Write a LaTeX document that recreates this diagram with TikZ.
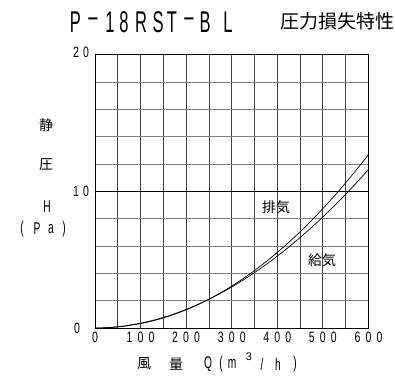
\documentclass[tikz,border=0pt]{standalone}
\usepackage{fontspec}
\setmainfont{Liberation Sans}
\newfontfamily\jpfont{Noto Sans CJK JP}
\begin{document}
\begin{tikzpicture}[x=1pt, y=-1pt]
\tikzstyle{letter}=[inner sep=0pt, font=\fontsize{30}{30}\selectfont]
\tikzstyle{small letter}=[inner sep=0pt, font=\fontsize{17}{17}\selectfont]
\tikzstyle{digit}=[inner sep=0pt, font=\fontsize{15}{15}\selectfont]
\tikzstyle{kanji}=[inner sep=0pt, font=\jpfont\fontsize{14}{14}\selectfont]
\tikzstyle{minor}=[black!50, line width=0.9pt]
\tikzstyle{major}=[black!75, line width=0.9pt]
\tikzstyle{curve}=[black, line width=0.7pt]
\useasboundingbox (0,0) rectangle (395,375);
% title
\foreach \c/\x [count=\i] in {P/75.5,{\textendash}/93,1/110,8/124,R/141,S/158,T/172,{\textendash}/189,B/205,L/228}
  \node[letter] (title\i) at (\x,22) {\scalebox{0.55}[1]{\c}};
\node[kanji, font=\jpfont\fontsize{19}{19}\selectfont] (subtitle) at (337,21) {圧力損失特性};
% grid and curves
\begin{scope}[shift={(95,328)}, x=0.4558pt, y=13.665pt]
  \foreach \q in {50,100,...,550}
    \draw[major] (\q,0) -- (\q,20);
  \foreach \h in {2,4,...,18}
    \draw[minor] (0,\h) -- (600,\h);
  \draw[black, line width=0.9pt] (0,10) -- (600,10);
  \draw[black, line width=0.9pt] (0,0) rectangle (600,20);
  \draw[curve] (0,0) -- plot[domain=1:600, samples=80] (\x, {12.7*pow(\x/600,2.05)});
  \draw[curve] (0,0) -- plot[domain=1:600, samples=80] (\x, {11.6*pow(\x/600,1.95)});
\end{scope}
\node[kanji] (exhaust) at (276,207) {排気};
\node[kanji] (supply) at (322,260) {給気};
% x ticks
\node[digit] (q0) at (95,337) {\scalebox{0.7}[1]{0}};
\foreach \q in {100,200,...,600}
  \foreach \d [count=\j] in {\the\numexpr\q/100\relax,0,0}
    \node[digit] (q\q-\j) at ({95+0.4558*\q+11*(\j-2)}, 337) {\scalebox{0.7}[1]{\d}};
% y ticks
\node[digit] (h20a) at (76,52) {\scalebox{0.7}[1]{2}};
\node[digit] (h20b) at (86,52) {\scalebox{0.7}[1]{0}};
\node[digit] (h10a) at (76,191) {\scalebox{0.7}[1]{1}};
\node[digit] (h10b) at (86,191) {\scalebox{0.7}[1]{0}};
\node[digit] (h0) at (77,328) {\scalebox{0.7}[1]{0}};
% y label
\node[kanji] (ylab1) at (46,125) {静};
\node[kanji] (ylab2) at (46,165) {圧};
\node[small letter] (ylab3) at (47,207) {\scalebox{0.6}[1]{H}};
\foreach \c/\x [count=\i] in {{(}/22,{P}/37,{a}/51,{)}/64}
  \node[small letter] (unit\i) at (\x,229) {\scalebox{0.6}[1]{\c}};
% x label
\node[kanji] (xlab1) at (144,364) {風};
\node[kanji] (xlab2) at (176,364) {量};
\foreach \c/\x [count=\i] in {{Q}/208,{(}/221,{m}/232,{/}/262,{h}/278,{)}/295}
  \node[small letter] (xunit\i) at (\x,364) {\scalebox{0.6}[1]{\c}};
\node[inner sep=0pt, font=\fontsize{11}{11}\selectfont] (xsup) at (249,357) {3};
\end{tikzpicture}
\end{document}
